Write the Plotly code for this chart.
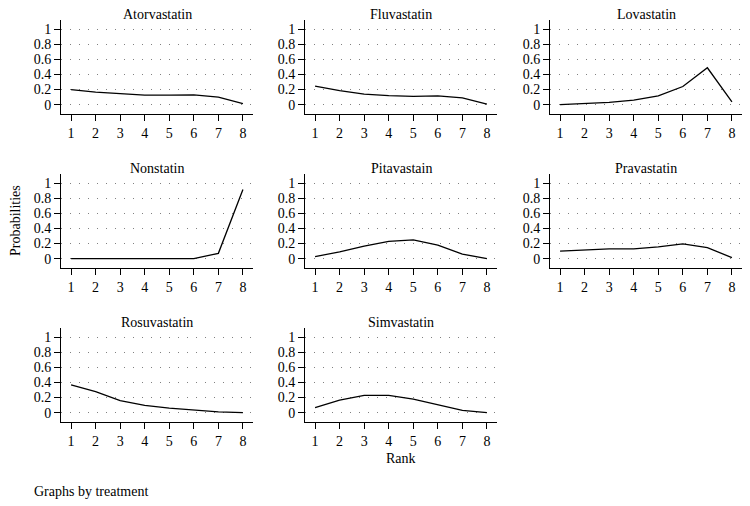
import plotly.graph_objects as go
from plotly.subplots import make_subplots

ranks = [1, 2, 3, 4, 5, 6, 7, 8]
treatments = ["Atorvastatin", "Fluvastatin", "Lovastatin", "Nonstatin",
              "Pitavastain", "Pravastatin", "Rosuvastatin", "Simvastatin"]
atorvastatin = [0.20, 0.165, 0.145, 0.127, 0.127, 0.13, 0.10, 0.014]
fluvastatin = [0.245, 0.186, 0.14, 0.12, 0.11, 0.115, 0.09, 0.005]
lovastatin = [0.0, 0.013, 0.03, 0.06, 0.115, 0.24, 0.49, 0.035]
nonstatin = [0.0, 0.0, 0.0, 0.0, 0.0, 0.0, 0.07, 0.92]
pitavastain = [0.027, 0.09, 0.165, 0.23, 0.25, 0.18, 0.06, 0.0]
pravastatin = [0.10, 0.115, 0.13, 0.13, 0.155, 0.195, 0.145, 0.013]
rosuvastatin = [0.37, 0.28, 0.16, 0.095, 0.06, 0.03, 0.01, 0.0]
simvastatin = [0.065, 0.165, 0.23, 0.23, 0.18, 0.10, 0.03, 0.0]
series = [atorvastatin, fluvastatin, lovastatin, nonstatin,
          pitavastain, pravastatin, rosuvastatin, simvastatin]
ytick_vals = [0, 0.2, 0.4, 0.6, 0.8, 1]
ytick_text = ["0", "0.2", "0.4", "0.6", "0.8", "1"]

OFF = 8  # default page margin of the html body
W, H = 750 - OFF, 506 - OFF
FONT = "Liberation Serif"
FS = 14


def px(x):
    return (x - OFF) / W


def py(y):
    return 1 - (y - OFF) / H


fig = make_subplots(rows=3, cols=3,
                    specs=[[{}, {}, {}], [{}, {}, {}], [{}, {}, None]])

col_px = [(61, 253), (305, 497), (550, 742)]
row_px = [(20, 114), (174, 268), (328, 422)]

for i, (name, vals) in enumerate(zip(treatments, series)):
    r, c = divmod(i, 3)
    fig.add_trace(go.Scatter(x=ranks, y=vals, mode="lines",
                             line=dict(color="black", width=1.3),
                             showlegend=False, hoverinfo="skip"),
                  row=r + 1, col=c + 1)
    n = "" if i == 0 else str(i + 1)
    x0, x1 = col_px[c]
    t, b = row_px[r]
    fig.layout["xaxis" + n].update(
        domain=[px(x0), px(x1)], range=[0.59, 8.41],
        tickvals=ranks, ticks="outside", ticklen=6, tickcolor="black",
        showline=True, linecolor="black", linewidth=1,
        showgrid=False, zeroline=False,
        tickfont=dict(family=FONT, size=FS, color="black"))
    fig.layout["yaxis" + n].update(
        domain=[py(b), py(t)], range=[-0.125, 1.125],
        tickvals=ytick_vals, ticktext=ytick_text,
        ticks="outside", ticklen=6, tickcolor="black",
        showline=True, linecolor="black", linewidth=1,
        showgrid=True, gridcolor="#808080", gridwidth=1, griddash="1px,8px",
        zeroline=False,
        tickfont=dict(family=FONT, size=FS, color="black"))
    fig.add_annotation(x=px((x0 + x1) / 2), y=py(t - 6), xref="paper", yref="paper",
                       text=name, showarrow=False, xanchor="center", yanchor="middle",
                       font=dict(family=FONT, size=FS, color="black"))

fig.add_annotation(x=px(401), y=py(458), xref="paper", yref="paper",
                   text="Rank", showarrow=False, xanchor="center", yanchor="middle",
                   font=dict(family=FONT, size=FS, color="black"))
fig.add_annotation(x=px(15), y=py(221), xref="paper", yref="paper",
                   text="Probabilities", showarrow=False, textangle=-90,
                   xanchor="center", yanchor="middle",
                   font=dict(family=FONT, size=FS, color="black"))
fig.add_annotation(x=px(32), y=py(491), xref="paper", yref="paper",
                   text="Graphs by treatment", showarrow=False,
                   xanchor="left", yanchor="middle",
                   font=dict(family=FONT, size=FS, color="black"))

fig.update_layout(width=W, height=H, autosize=False,
                  margin=dict(l=0, r=0, t=0, b=0),
                  paper_bgcolor="white", plot_bgcolor="white")

fig.write_html("out.html")
